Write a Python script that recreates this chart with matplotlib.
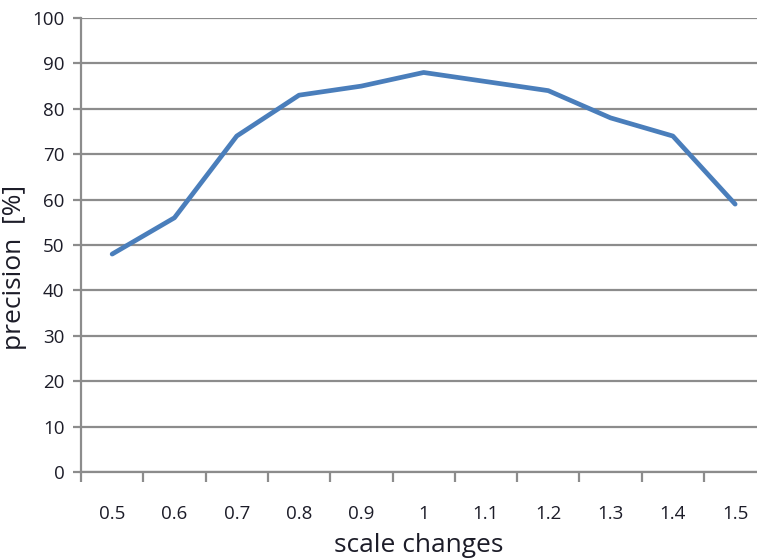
import matplotlib
matplotlib.use('Agg')
import matplotlib.pyplot as plt
from matplotlib.ticker import FixedLocator, NullFormatter

# data
scales = ['0.5', '0.6', '0.7', '0.8', '0.9', '1', '1.1', '1.2', '1.3', '1.4', '1.5']
precision = [48, 56, 74, 83, 85, 88, 86, 84, 78, 74, 59]

plt.rcParams['font.family'] = ['Open Sans', 'DejaVu Sans']

fig = plt.figure(figsize=(7.57, 5.59), dpi=100)
ax = fig.add_axes([81 / 757, 87 / 559, 1 - 81 / 757, 454 / 559])

x = list(range(len(scales)))
ax.plot(x, precision, color='#4a7ebb', linewidth=3.4, solid_capstyle='round', zorder=3)

# axes and grid, excel style
ax.set_ylim(0, 100)
ax.set_xlim(-0.5, -0.5 + 676 / 62.3)
ax.set_yticks(range(0, 101, 10))
ax.yaxis.grid(True, color='#8c8c8c', linewidth=1.6)
ax.set_axisbelow(True)
for s in ['top', 'right']:
    ax.spines[s].set_visible(False)
for s in ['left', 'bottom']:
    ax.spines[s].set_color('#8c8c8c')
    ax.spines[s].set_linewidth(1.6)

# category labels centred, tick marks between categories
ax.set_xticks(x)
ax.set_xticklabels(scales)
ax.xaxis.set_minor_locator(FixedLocator([i - 0.5 for i in range(len(scales) + 1)]))
ax.xaxis.set_minor_formatter(NullFormatter())
ax.tick_params(axis='x', which='major', length=0, pad=24, labelsize=13.5, labelcolor='#1c1c28')
ax.tick_params(axis='x', which='minor', length=7, width=1.6, color='#8c8c8c', direction='out')
ax.tick_params(axis='y', length=6, width=1.6, color='#8c8c8c', pad=6, labelsize=13.5, labelcolor='#1c1c28')

ax.set_xlabel('scale changes', fontsize=19, color='#1c1c28', labelpad=7)
ax.set_ylabel('precision  [%]', fontsize=19, color='#1c1c28')
ax.yaxis.set_label_coords(-54 / 676, 0.45)

fig.savefig('out.png', dpi=100)
